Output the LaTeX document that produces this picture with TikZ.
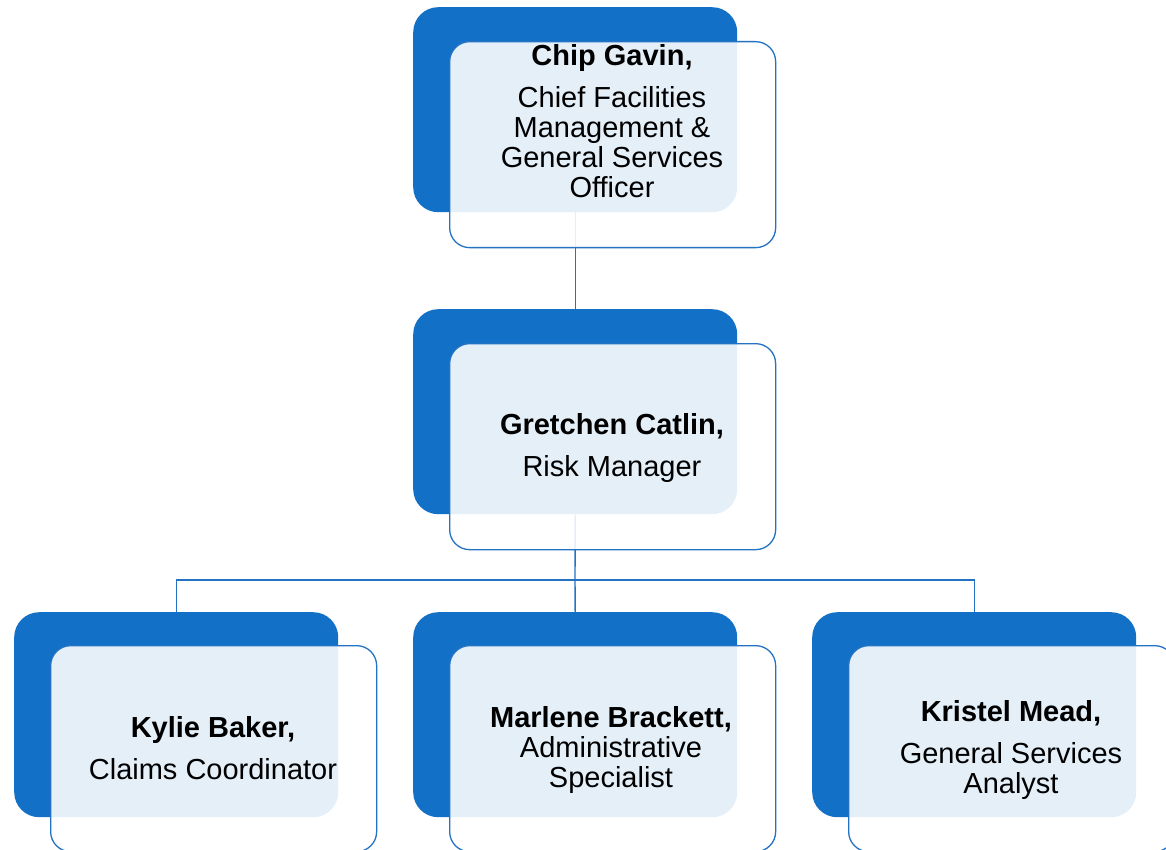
\documentclass[tikz,border=0pt]{standalone}
\usepackage{fontspec}
\setmainfont{Liberation Sans}
\definecolor{darkblue}{HTML}{1270C6}
\definecolor{lineblue}{HTML}{2372C4}
\tikzset{
  darkbox/.style={draw=none, fill=darkblue, rounded corners=25pt, minimum width=324pt, minimum height=205pt, inner sep=0pt, anchor=north west},
  lightbox/.style={draw=lineblue, line width=1.3pt, fill=white, fill opacity=0.89, rounded corners=20pt, minimum width=326pt, minimum height=206pt, inner sep=0pt, anchor=north west},
  label/.style={align=center, text=black, font=\fontsize{29}{30}\selectfont, inner sep=0pt},
  conn/.style={draw=lineblue, line width=1.4pt}
}
\begin{document}
\begin{tikzpicture}[x=1pt,y=-1pt]
\useasboundingbox (0,0) rectangle (1166,850);
% dark boxes
\node[darkbox] (cgd) at (413,7) {};
\node[darkbox] (gcd) at (413,309) {};
\node[darkbox] (kbd) at (14,612) {};
\node[darkbox] (mbd) at (413,612) {};
\node[darkbox] (kmd) at (812,612) {};
% connectors
\coordinate (bus) at (575,580);
\draw[conn] (cgd.south) -- (gcd.north);
\draw[conn] (gcd.south) -- (bus);
\draw[conn] (bus) -| (kbd.north);
\draw[conn] (bus) -| (kmd.north);
\draw[conn] (bus) -- (mbd.north);
% light boxes
\node[lightbox] (cgl) at (449,41) {};
\node[lightbox] (gcl) at (449,343) {};
\node[lightbox] (kbl) at (50,645) {};
\node[lightbox] (mbl) at (449,645) {};
\node[lightbox] (kml) at (848,645) {};
% texts
\node[label] (cgt) at (612,121) {\textbf{Chip Gavin,}\\[12pt]Chief Facilities\\Management \&\\General Services\\Officer};
\node[label] (gct) at (612,448) {\textbf{Gretchen Catlin,}\\[12pt]Risk Manager};
\node[label] (kbt) at (213,748) {\textbf{Kylie Baker,}\\[12pt]Claims Coordinator};
\node[label] (mbt) at (611,750) {\textbf{Marlene Brackett,}\\Administrative\\Specialist};
\node[label] (kmt) at (1011,750) {\textbf{Kristel Mead,}\\[12pt]General Services\\Analyst};
\end{tikzpicture}
\end{document}
